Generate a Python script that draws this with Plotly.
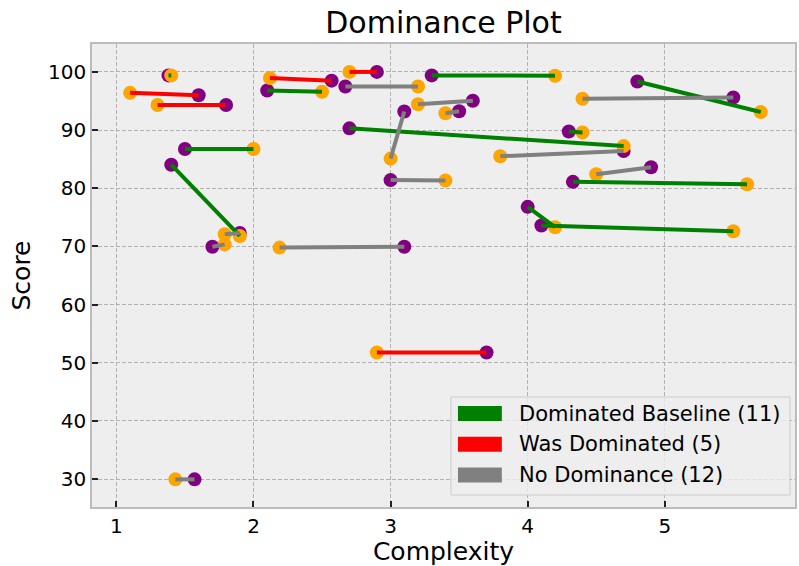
import plotly.graph_objects as go

# Segment data: baseline (purple) point -> model (orange) point, with status
base_x = [1.38, 2.10, 1.50, 1.40, 3.30, 2.70, 4.30, 4.80, 4.33, 4.00, 4.10,
          1.60, 1.80, 2.57, 2.90, 3.70,
          1.90, 1.70, 3.10, 3.00, 3.10, 2.67, 3.60, 3.50, 4.70, 5.50, 4.90, 1.57]
base_y = [99.4, 96.8, 86.75, 84.05, 99.4, 90.3, 89.75, 98.35, 81.1, 76.8, 73.6,
          96.0, 94.3, 98.5, 100.0, 51.75,
          72.3, 69.95, 69.95, 81.4, 93.2, 97.5, 95.05, 93.25, 86.4, 95.6, 83.6, 29.95]
model_x = [1.40, 2.50, 2.00, 1.90, 4.20, 4.70, 4.40, 5.70, 5.60, 4.20, 5.50,
           1.10, 1.30, 2.12, 2.70, 2.90,
           1.79, 1.79, 2.19, 3.40, 3.00, 3.20, 3.20, 3.40, 3.80, 4.40, 4.50, 1.43]
model_y = [99.4, 96.6, 86.75, 71.8, 99.35, 87.25, 89.6, 93.1, 80.7, 73.3, 72.6,
           96.4, 94.3, 98.95, 100.0, 51.75,
           72.1, 70.35, 69.8, 81.35, 85.1, 97.5, 94.45, 92.9, 85.5, 95.4, 82.4, 29.95]
status = ["dominated"] * 11 + ["was"] * 5 + ["none"] * 12

categories = ["dominated", "was", "none"]
cat_labels = ["Dominated Baseline", "Was Dominated", "No Dominance"]
cat_colors = ["#008000", "#ff0000", "#808080"]

x_ticks = [1, 2, 3, 4, 5]
y_ticks = [30, 40, 50, 60, 70, 80, 90, 100]

fig = go.Figure()

# markers first (purple baseline, then orange model), lines on top
fig.add_trace(go.Scatter(x=base_x, y=base_y, mode="markers",
                         marker=dict(color="#800080", size=14), showlegend=False,
                         hoverinfo="skip"))
fig.add_trace(go.Scatter(x=model_x, y=model_y, mode="markers",
                         marker=dict(color="#ffa500", size=14), showlegend=False,
                         hoverinfo="skip"))

for cat, col in zip(categories, cat_colors):
    xs, ys = [], []
    for bx, by, mx, my, s in zip(base_x, base_y, model_x, model_y, status):
        if s == cat:
            xs += [bx, mx, None]
            ys += [by, my, None]
    fig.add_trace(go.Scatter(x=xs, y=ys, mode="lines",
                             line=dict(color=col, width=4), showlegend=False,
                             hoverinfo="skip"))

# --- manual legend (matplotlib-style patches) in paper coordinates ---
# plot area in page pixels: x 92..797, y 44..507
PL, PR, PT, PB = 92.0, 797.0, 44.0, 507.0
def px(x):
    return (x - PL) / (PR - PL)
def py(y):
    return (PB - y) / (PB - PT)

fig.add_shape(type="rect", xref="paper", yref="paper",
              x0=px(452), x1=px(792), y0=py(495), y1=py(397),
              fillcolor="rgba(238,238,238,0.8)", line=dict(color="#cccccc", width=1),
              layer="above")
row_centers = [413.5, 444.3, 475.0]
for (cat, lab, col), yc in zip(zip(categories, cat_labels, cat_colors), row_centers):
    n = status.count(cat)
    fig.add_shape(type="rect", xref="paper", yref="paper",
                  x0=px(459), x1=px(503), y0=py(yc + 7.5), y1=py(yc - 7.5),
                  fillcolor=col, line=dict(width=0), layer="above")
    fig.add_annotation(xref="paper", yref="paper", x=px(518), y=py(yc),
                       xanchor="left", yanchor="middle", showarrow=False,
                       text=f"{lab} ({n})",
                       font=dict(family="DejaVu Sans", size=21, color="#000000"))

axis_common = dict(
    showgrid=True, gridcolor="#b2b2b2", griddash="4px,2px", gridwidth=0.8,
    showline=True, linecolor="#bcbcbc", linewidth=1.5, mirror=True,
    ticks="inside", ticklen=6, tickwidth=2, tickcolor="#222222",
    zeroline=False,
    tickfont=dict(family="DejaVu Sans", size=20, color="#000000"),
)

fig.update_layout(
    width=799, height=566,
    margin=dict(l=92, r=2, t=44, b=59),
    paper_bgcolor="white",
    plot_bgcolor="#eeeeee",
    font=dict(family="DejaVu Sans", color="#000000"),
    title=dict(text="Dominance Plot", x=0.5, xref="paper", xanchor="center",
               y=1 - 22 / 566, yanchor="middle", font=dict(size=30)),
    xaxis=dict(range=[0.822, 5.95], tickvals=x_ticks,
               title=dict(text="Complexity", font=dict(size=25), standoff=6),
               **axis_common),
    yaxis=dict(range=[25.2, 104.8], tickvals=y_ticks,
               title=dict(text="Score", font=dict(size=25), standoff=10),
               **axis_common),
    showlegend=False,
)

fig.write_html("out.html", config={"displayModeBar": False},
               post_script="document.body.style.margin='0';document.body.style.overflow='hidden';")
